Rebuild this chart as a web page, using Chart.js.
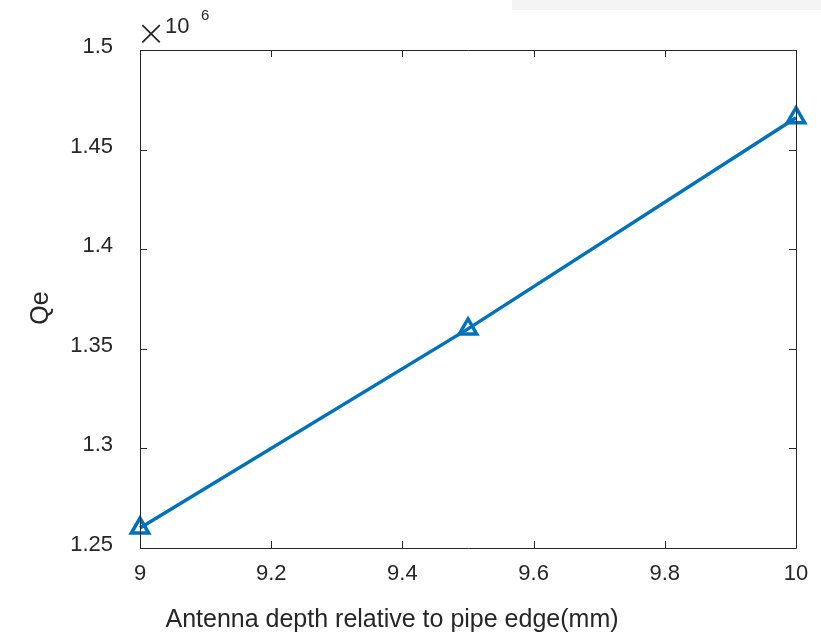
<!DOCTYPE html>
<html>
<head>
<meta charset="utf-8">
<script src="https://cdn.jsdelivr.net/npm/chart.js@4.4.1/dist/chart.umd.min.js"></script>
<style>
  html, body { margin: 0; padding: 0; background: #ffffff; }
  #wrap { position: relative; width: 821px; height: 634px; }
  #strip { position: absolute; left: 512px; top: 0; width: 309px; height: 10px; background: #f4f4f4; }
  canvas { position: absolute; left: 0; top: 0; }
</style>
</head>
<body>
<div id="wrap">
  <div id="strip"></div>
  <canvas id="c" width="821" height="634"></canvas>
</div>
<script>
// ---- data ----
const depths = [9, 9.5, 10];
const qeValues = [1.26e6, 1.36e6, 1.466e6];
const xTickValues = [9, 9.2, 9.4, 9.6, 9.8, 10];
const yTickValues = [1.25e6, 1.3e6, 1.35e6, 1.4e6, 1.45e6, 1.5e6];
const xTitle = 'Antenna depth relative to pipe edge(mm)';
const yTitle = 'Qe';

const axisColor = '#262626';
const fontFamily = '"Liberation Sans", Arial, Helvetica, sans-serif';

const boxPlugin = {
  id: 'matlabBox',
  afterDraw(chart) {
    const ctx = chart.ctx;
    const a = chart.chartArea;
    const xs = chart.scales.x, ys = chart.scales.y;
    ctx.save();
    ctx.strokeStyle = axisColor;
    ctx.lineWidth = 1;
    ctx.beginPath();
    ctx.rect(Math.round(a.left) + 0.5, Math.round(a.top) + 0.5, Math.round(a.right - a.left), Math.round(a.bottom - a.top));
    ctx.stroke();
    const tl = 7;
    ctx.beginPath();
    xTickValues.forEach(v => {
      const px = Math.round(xs.getPixelForValue(v)) + 0.5;
      ctx.moveTo(px, a.bottom); ctx.lineTo(px, a.bottom - tl);
      ctx.moveTo(px, a.top); ctx.lineTo(px, a.top + tl);
    });
    yTickValues.forEach(v => {
      const py = Math.round(ys.getPixelForValue(v)) + 0.5;
      ctx.moveTo(a.left, py); ctx.lineTo(a.left + tl, py);
      ctx.moveTo(a.right, py); ctx.lineTo(a.right - tl, py);
    });
    ctx.stroke();

    // axis titles
    ctx.fillStyle = axisColor;
    ctx.font = '25px ' + fontFamily;
    ctx.textAlign = 'center';
    ctx.textBaseline = 'middle';
    ctx.fillText(xTitle, 392, 620);
    ctx.save();
    ctx.translate(41, 308);
    ctx.rotate(-Math.PI / 2);
    ctx.fillText(yTitle, 0, 0);
    ctx.restore();

    // exponent label
    ctx.textAlign = 'center';
    ctx.textBaseline = 'middle';
    ctx.font = '200 36px "DejaVu Sans", ' + fontFamily;
    ctx.fillText('\u00D7', 151, 36);
    ctx.textAlign = 'left';
    ctx.textBaseline = 'alphabetic';
    ctx.font = '22px ' + fontFamily;
    ctx.fillText('10', 165, 33);
    ctx.font = '15px ' + fontFamily;
    ctx.fillText('6', 201, 20);
    ctx.restore();
  }
};

new Chart(document.getElementById('c'), {
  type: 'line',
  data: {
    datasets: [{
      data: depths.map((d, i) => ({ x: d, y: qeValues[i] })),
      borderColor: '#0072BD',
      borderWidth: 3.5,
      tension: 0,
      fill: false,
      pointStyle: 'triangle',
      pointRadius: 10,
      pointHoverRadius: 10,
      pointBorderWidth: 3.5,
      pointBorderColor: '#0072BD',
      pointBackgroundColor: 'rgba(255,255,255,0)',
      clip: false
    }]
  },
  options: {
    responsive: false,
    animation: false,
    events: [],
    layout: { padding: { top: 50, right: 25, left: 0, bottom: 0 } },
    plugins: { legend: { display: false }, tooltip: { enabled: false } },
    scales: {
      x: {
        type: 'linear',
        min: 9, max: 10,
        grid: { display: false },
        border: { display: false },
        afterBuildTicks: s => { s.ticks = xTickValues.map(v => ({ value: v })); },
        afterFit: s => { s.height = 86; },
        ticks: {
          color: axisColor,
          padding: 5,
          maxRotation: 0,
          font: { family: fontFamily, size: 22 },
          callback: v => String(Math.round(v * 10) / 10)
        }
      },
      y: {
        min: 1.25e6, max: 1.5e6,
        grid: { display: false },
        border: { display: false },
        afterBuildTicks: s => { s.ticks = yTickValues.map(v => ({ value: v })); },
        afterFit: s => { s.width = 140; },
        ticks: {
          color: axisColor,
          padding: 19,
          labelOffset: -3,
          font: { family: fontFamily, size: 22 },
          callback: v => String(Math.round(v / 1e4) / 100)
        }
      }
    }
  },
  plugins: [boxPlugin]
});
</script>
</body>
</html>
